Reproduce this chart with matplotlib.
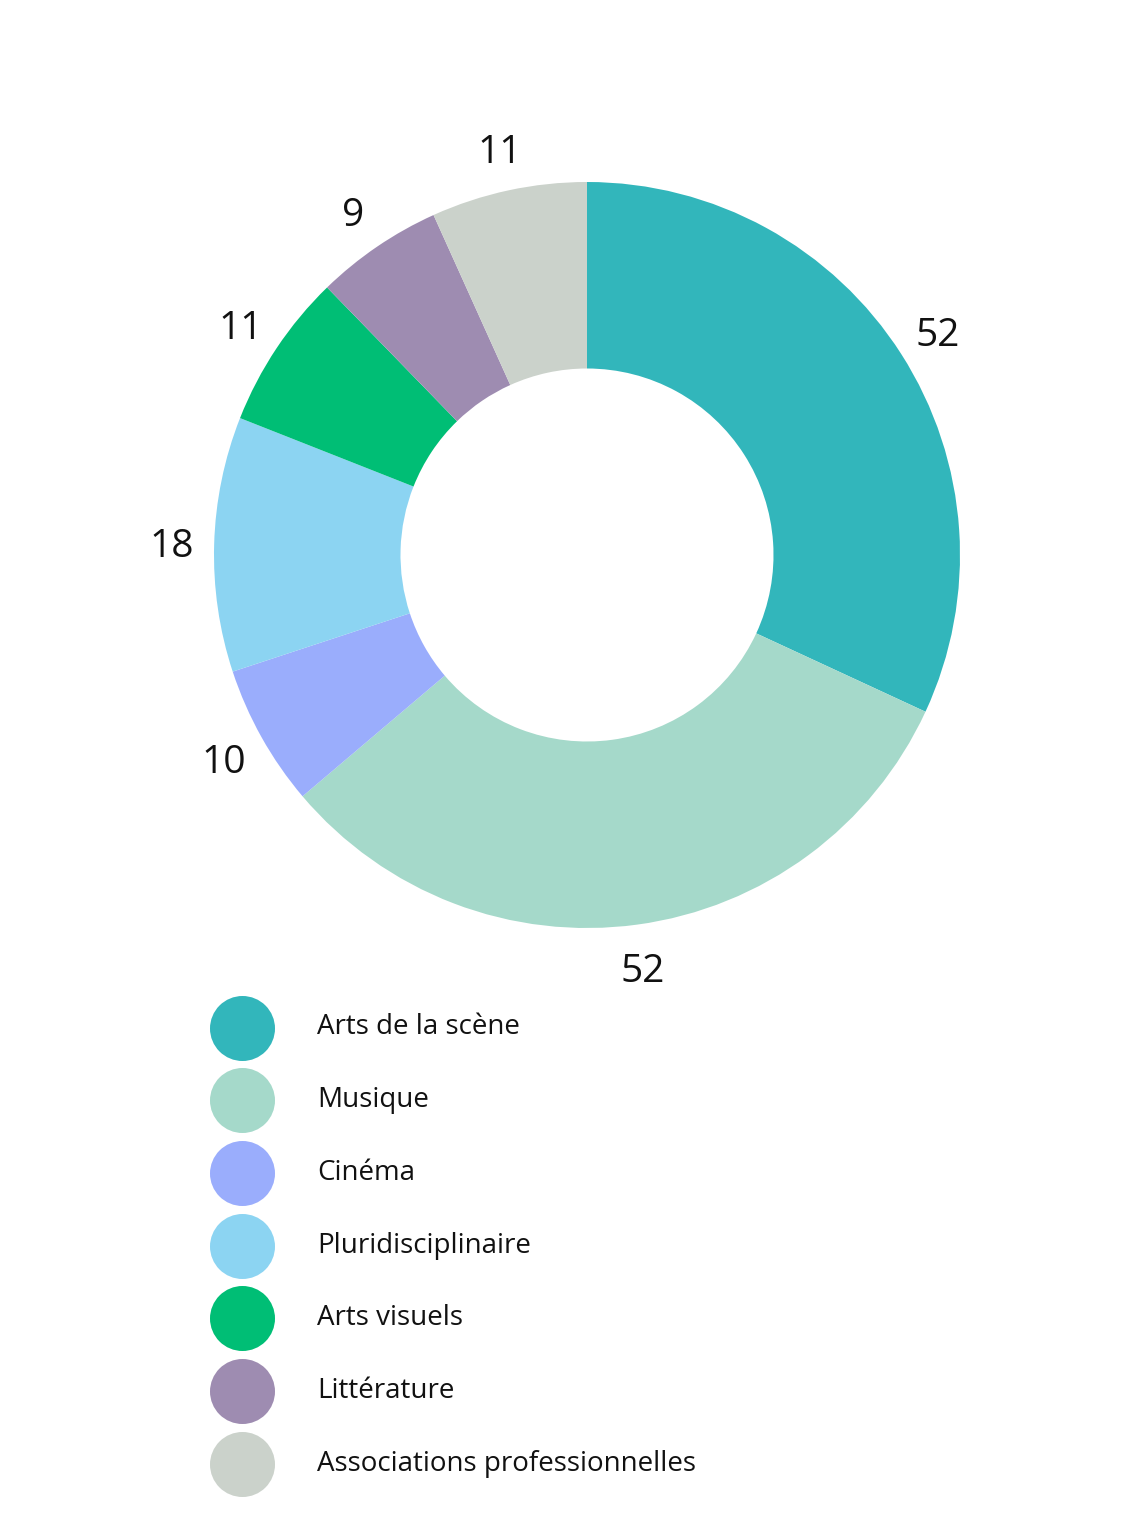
import matplotlib
matplotlib.use("Agg")
import matplotlib.pyplot as plt

categories = ["Arts de la scène", "Musique", "Cinéma", "Pluridisciplinaire",
              "Arts visuels", "Littérature", "Associations professionnelles"]
values = [52, 52, 10, 18, 11, 9, 11]
colors = ["#32B6BB", "#A5D9CA", "#9AADFC", "#8CD4F2", "#00BE75", "#9E8CB1", "#CBD2CB"]

plt.rcParams["font.family"] = ["Open Sans", "DejaVu Sans"]

W, H = 1123, 1513
fig = plt.figure(figsize=(W / 100, H / 100), dpi=100)

# donut: center (587, 555) px, outer radius 373 px
cx, cy, r = 587, 555, 373
ax = fig.add_axes([(cx - r) / W, (H - cy - r) / H, 2 * r / W, 2 * r / H])
wedges, texts = ax.pie(values, colors=colors, startangle=90, counterclock=False,
                       labels=[str(v) for v in values], labeldistance=1.115,
                       wedgeprops=dict(width=0.5, linewidth=0),
                       textprops=dict(fontsize=28, color="#111111"))
for t in texts:
    t.set_ha("center")
    t.set_va("center_baseline")
    t.set_clip_on(False)
ax.set_xlim(-1, 1)
ax.set_ylim(-1, 1)
ax.set_aspect("equal")
ax.axis("off")

# legend drawn in pixel coordinates
lax = fig.add_axes([0, 0, 1, 1])
lax.set_xlim(0, W)
lax.set_ylim(H, 0)
lax.axis("off")
y0, step = 1027.5, 72.7
for i, (name, c) in enumerate(zip(categories, colors)):
    y = y0 + i * step
    lax.scatter([241.5], [y], s=(65 * 0.72) ** 2, color=c, linewidths=0)
    lax.text(317, y, name, fontsize=20, va="center", ha="left", color="#111111")

fig.savefig("out.png", dpi=100)
